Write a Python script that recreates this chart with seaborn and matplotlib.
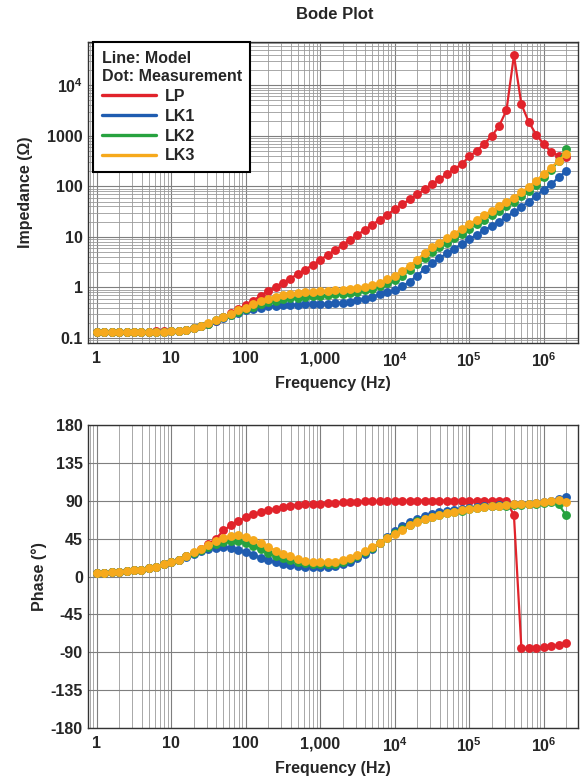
import matplotlib
matplotlib.use("Agg")
import matplotlib.pyplot as plt
import matplotlib.ticker as mticker
from matplotlib.lines import Line2D
import numpy as np
import pandas as pd
import seaborn as sns

# ---------------- data ----------------
freq_hz = [1.0, 1.26, 1.58, 2.0, 2.51, 3.16, 3.98, 5.01, 6.31, 7.94,
           10.0, 12.6, 15.8, 20.0, 25.1, 31.6, 39.8, 50.1, 63.1, 79.4,
           100, 126, 158, 200, 251, 316, 398, 501, 631, 794,
           1000, 1260, 1580, 2000, 2510, 3160, 3980, 5010, 6310, 7940,
           1.0e4, 1.26e4, 1.58e4, 2.0e4, 2.51e4, 3.16e4, 3.98e4, 5.01e4, 6.31e4, 7.94e4,
           1.0e5, 1.26e5, 1.58e5, 2.0e5, 2.51e5, 3.16e5, 3.98e5, 5.01e5, 6.31e5, 7.94e5,
           1.0e6, 1.26e6, 1.58e6, 2.0e6]

series_names = ["LP", "LK1", "LK2", "LK3"]
series_colors = ["#e1232b", "#1f5cb0", "#27a23f", "#f6a91c"]

imp_lp = [0.13, 0.13, 0.13, 0.13, 0.13, 0.13, 0.13, 0.13, 0.135, 0.135,
          0.135, 0.14, 0.145, 0.155, 0.17, 0.19, 0.22, 0.26, 0.31, 0.37,
          0.45, 0.55, 0.68, 0.84, 1.02, 1.25, 1.5, 1.85, 2.25, 2.8,
          3.5, 4.4, 5.5, 6.9, 8.7, 11, 13.8, 17.4, 22, 27.5,
          35, 44, 55, 69, 87, 110, 138, 174, 219, 276,
          390, 500, 690, 985, 1550, 3200, 39000, 4200, 1850, 1050,
          680, 480, 400, 380]
imp_lk1 = [0.13, 0.13, 0.13, 0.13, 0.13, 0.13, 0.13, 0.13, 0.132, 0.133,
           0.135, 0.14, 0.145, 0.155, 0.17, 0.19, 0.215, 0.25, 0.28, 0.31,
           0.35, 0.38, 0.4, 0.42, 0.43, 0.44, 0.45, 0.45, 0.46, 0.46,
           0.47, 0.48, 0.49, 0.5, 0.52, 0.56, 0.6, 0.66, 0.73, 0.8,
           0.88, 1.05, 1.3, 1.7, 2.3, 3.0, 3.8, 4.7, 5.8, 7.2,
           9, 11, 13.5, 16.5, 20, 24.5, 31, 39, 50, 65,
           85, 110, 150, 200]
imp_lk2 = [0.13, 0.13, 0.13, 0.13, 0.13, 0.13, 0.13, 0.13, 0.132, 0.133,
           0.135, 0.14, 0.146, 0.157, 0.172, 0.193, 0.222, 0.255, 0.29, 0.33,
           0.37, 0.41, 0.46, 0.51, 0.55, 0.58, 0.61, 0.63, 0.65, 0.67,
           0.69, 0.71, 0.73, 0.75, 0.78, 0.82, 0.87, 0.95, 1.06, 1.2,
           1.4, 1.72, 2.2, 2.85, 3.8, 5.0, 6.2, 7.6, 9.3, 11.5,
           14.5, 18, 22, 27, 33, 40, 50, 63, 81, 108,
           150, 210, 320, 550]
imp_lk3 = [0.13, 0.13, 0.13, 0.13, 0.13, 0.13, 0.13, 0.13, 0.132, 0.133,
           0.135, 0.14, 0.147, 0.158, 0.173, 0.195, 0.225, 0.26, 0.3, 0.35,
           0.4, 0.46, 0.53, 0.6, 0.66, 0.71, 0.75, 0.78, 0.8, 0.82,
           0.84, 0.86, 0.88, 0.9, 0.93, 0.97, 1.03, 1.12, 1.25, 1.45,
           1.7, 2.1, 2.7, 3.5, 4.8, 6.3, 7.7, 9.4, 11.5, 14.5,
           18, 22, 27, 33, 40, 48, 60, 76, 98, 130,
           175, 235, 320, 440]

ph_lp = [4, 4.5, 5, 5.5, 6.5, 7.5, 8.5, 10, 12, 14.5,
         17, 20, 24, 28, 33, 39, 45, 55, 61, 66,
         71, 74, 77, 79, 81, 83, 84.5, 85.5, 86, 86.5,
         87, 87.5, 88, 88.5, 89, 89, 89.5, 89.5, 90, 90,
         90, 90, 90.5, 90.5, 90.5, 90.5, 90.5, 90.5, 90.5, 90.5,
         90.5, 90.5, 90.5, 90.5, 90.5, 90, 73, -85, -85, -85,
         -84, -83, -81, -79]
ph_lk1 = [4, 4.5, 5, 5.5, 6.5, 7.5, 8.5, 10, 12, 14.5,
          17, 20, 23.5, 27, 30, 32.5, 34, 35, 34.5, 32,
          29, 26, 22.5, 19.5, 17, 15, 13.5, 12.5, 12, 11.5,
          11.5, 12, 13, 15, 18, 22, 27, 33, 40, 47,
          54, 60, 65, 69, 72, 74.5, 76.5, 78, 79.5, 81,
          82, 83, 84, 84.5, 85, 85.5, 86, 86.5, 87, 87.5,
          88.5, 90, 92, 95]
ph_lk2 = [4, 4.5, 5, 5.5, 6.5, 7.5, 8.5, 10, 12, 14.5,
          17, 20, 24, 28, 31.5, 35, 38.5, 41, 42.5, 42,
          40, 36.5, 32.5, 28.5, 25, 22, 19.5, 17.5, 16, 15,
          14.5, 14.5, 15.5, 17.5, 20.5, 24.5, 29, 34.5, 40.5, 46.5,
          52, 57, 62, 66, 69, 71.5, 73.5, 75.5, 77, 78.5,
          80, 81.5, 82.5, 83.5, 84, 84.5, 85, 85.5, 86, 87,
          88, 89, 86, 73]
ph_lk3 = [4, 4.5, 5, 5.5, 6.5, 7.5, 8.5, 10, 12, 14.5,
          17, 20, 24, 29, 33, 37.5, 42, 46, 48.5, 49,
          47, 44, 40, 35.5, 31, 27, 24, 21, 19, 18,
          17.5, 17.5, 18, 19.5, 22, 25.5, 30, 35, 40.5, 46,
          51, 56, 61, 65, 68, 71, 73.5, 75.5, 77.5, 79,
          80.5, 82, 83, 84, 84.5, 85, 86, 86.5, 87, 88,
          89, 90, 91, 89]

x_ticks = [1, 10, 100, 1000, 1e4, 1e5, 1e6]
x_tick_labels = ["1", "10", "100", "1,000", r"$\mathbf{10^4}$", r"$\mathbf{10^5}$", r"$\mathbf{10^6}$"]
imp_ticks = [0.1, 1, 10, 100, 1000, 1e4]
imp_tick_labels = ["0.1", "1", "10", "100", "1000", r"$\mathbf{10^4}$"]
ph_ticks = [-180, -135, -90, -45, 0, 45, 90, 135, 180]
ph_tick_labels = ["-180", "-135", "-90", "-45", "0", "45", "90", "135", "180"]

imp_data = {"LP": imp_lp, "LK1": imp_lk1, "LK2": imp_lk2, "LK3": imp_lk3}
ph_data = {"LP": ph_lp, "LK1": ph_lk1, "LK2": ph_lk2, "LK3": ph_lk3}

rows = []
for name in series_names:
    for f, z, p in zip(freq_hz, imp_data[name], ph_data[name]):
        rows.append({"series": name, "freq": f, "imp": z, "phase": p})
df = pd.DataFrame(rows)

# ---------------- style ----------------
sns.set_theme(style="white")
plt.rcParams["font.family"] = ["Liberation Sans", "DejaVu Sans"]
plt.rcParams["font.weight"] = "bold"
plt.rcParams["mathtext.fontset"] = "custom"
plt.rcParams["mathtext.rm"] = "Liberation Sans"
plt.rcParams["mathtext.bf"] = "Liberation Sans:bold"
plt.rcParams["mathtext.default"] = "bf"

FS = 11.5

fig = plt.figure(figsize=(5.81, 7.8), dpi=100)
ax1 = fig.add_axes([0.152, 0.5603, 0.8424, 0.386])
ax2 = fig.add_axes([0.152, 0.0667, 0.8424, 0.388])

pal = dict(zip(series_names, series_colors))

for ax, col in [(ax1, "imp"), (ax2, "phase")]:
    ax.set_xscale("log")
    for name in series_names:
        sub = df[df["series"] == name]
        sns.lineplot(data=sub, x="freq", y=col, ax=ax, color=pal[name],
                     marker="o", markersize=6.4, markeredgewidth=0,
                     linewidth=1.6, sort=True, estimator=None)
    ax.set_xlim(0.77, 2.86e6)
    ax.set_xticks(x_ticks)
    ax.set_xticklabels(x_tick_labels)
    ax.xaxis.set_minor_locator(mticker.LogLocator(base=10, subs=np.arange(2, 10), numticks=20))
    ax.xaxis.set_minor_formatter(mticker.NullFormatter())
    ax.grid(True, which="major", color="#7f7f7f", linewidth=0.8)
    ax.grid(True, which="minor", axis="x", color="#9a9a9a", linewidth=0.6)
    ax.set_xlabel("Frequency (Hz)", fontsize=FS, fontweight="bold", labelpad=4)
    ax.tick_params(axis="both", which="both", direction="in", length=2.5,
                   labelsize=FS, pad=4, color="#555555")
    ax.tick_params(axis="x", which="major", pad=6)
    for lbl in ax.get_xticklabels() + ax.get_yticklabels():
        lbl.set_fontweight("bold")
    for sp in ax.spines.values():
        sp.set_color("#333333")
        sp.set_linewidth(1.0)
    ax.set_axisbelow(True)

ax1.set_yscale("log")
ax1.set_ylim(0.0796, 7.2e4)
ax1.set_yticks(imp_ticks)
ax1.set_yticklabels(imp_tick_labels)
ax1.yaxis.set_minor_locator(mticker.LogLocator(base=10, subs=np.arange(2, 10), numticks=20))
ax1.yaxis.set_minor_formatter(mticker.NullFormatter())
ax1.grid(True, which="minor", axis="y", color="#9a9a9a", linewidth=0.6)
ax1.set_ylabel("Impedance (Ω)", fontsize=FS, fontweight="bold", labelpad=10)
for lbl in ax1.get_yticklabels():
    lbl.set_fontweight("bold")

ax2.set_ylim(-180, 180)
ax2.set_yticks(ph_ticks)
ax2.set_yticklabels(ph_tick_labels)
ax2.set_ylabel("Phase (°)", fontsize=FS, fontweight="bold", labelpad=2.5)
for lbl in ax2.get_yticklabels():
    lbl.set_fontweight("bold")

# legend
handles = [Line2D([0], [0], color=c, linewidth=2.4) for c in series_colors]
leg = ax1.legend(handles, series_names, loc="upper left", bbox_to_anchor=(0.009, 1.0),
                 borderaxespad=0.0, frameon=True, fancybox=False,
                 title="Line: Model\nDot: Measurement", alignment="left",
                 prop={"weight": "bold", "size": FS},
                 title_fontproperties={"weight": "bold", "size": FS},
                 handlelength=3.4, handletextpad=0.55, labelspacing=0.3,
                 borderpad=0.55)
leg.get_title().set_linespacing(1.3)
leg.get_frame().set_edgecolor("black")
leg.get_frame().set_linewidth(1.5)
leg.get_frame().set_alpha(1.0)

fig.text(0.577, 0.981, "Bode Plot", ha="center", va="center",
         fontsize=12, fontweight="bold")

fig.savefig("out.png", dpi=100)
